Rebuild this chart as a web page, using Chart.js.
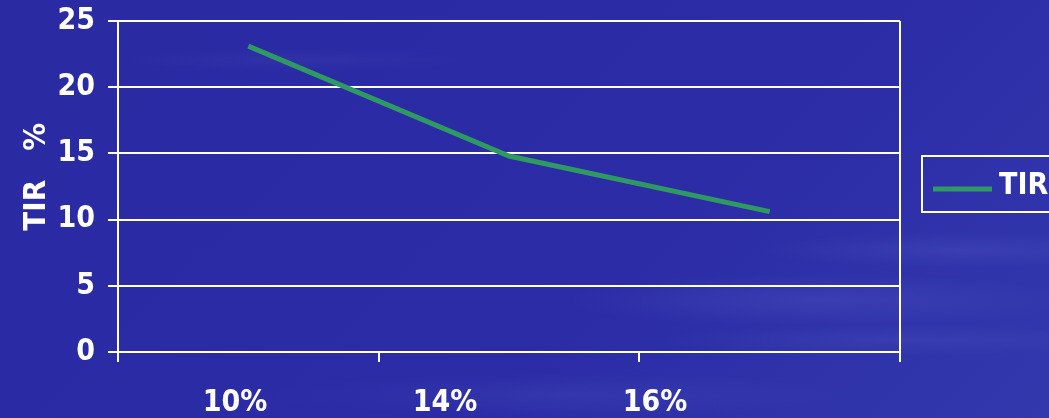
<!DOCTYPE html>
<html>
<head>
    <meta charset="UTF-8">
    <title>TIR</title>
    <script src="https://cdn.jsdelivr.net/npm/chart.js"></script>
    <style>
        html, body {
            margin: 0;
            padding: 0;
        }
        body {
            width: 1049px;
            height: 418px;
            overflow: hidden;
            background-color: #2b2ca6;
            background-image:
                radial-gradient(ellipse 260px 26px at 820px 300px, rgba(120, 130, 220, 0.16), transparent),
                radial-gradient(ellipse 200px 18px at 960px 250px, rgba(120, 130, 220, 0.14), transparent),
                radial-gradient(ellipse 240px 16px at 900px 340px, rgba(120, 130, 220, 0.12), transparent),
                radial-gradient(ellipse 300px 22px at 560px 395px, rgba(120, 130, 220, 0.10), transparent),
                radial-gradient(ellipse 180px 10px at 300px 60px, rgba(120, 130, 220, 0.08), transparent),
                linear-gradient(135deg, #2a2aa3 0%, #2b2ca6 60%, #3338ad 100%);
        }
        .chart-container {
            position: relative;
            width: 1049px;
            height: 418px;
        }
    </style>
</head>
<body>
<div class="chart-container">
    <canvas id="tirChart"></canvas>
</div>

<script>
    // Data
    const categories = ['10%', '14%', '16%'];
    const tirValues = [23.1, 14.8, 10.6];
    const yMin = 0;
    const yMax = 25;
    const yStep = 5;

    const WHITE = '#ffffff';
    const GREEN = '#2e9a62';
    const FONT = 'DejaVu Sans Condensed';

    // Boxed legend to the right of the plot
    const boxLegend = {
        id: 'boxLegend',
        afterDraw(chart) {
            const ctx = chart.ctx;
            const area = chart.chartArea;
            const ds = chart.data.datasets[0];
            const left = area.right + 22;
            const top = area.top + 135;
            const h = 56;
            ctx.save();
            ctx.strokeStyle = WHITE;
            ctx.lineWidth = 2;
            ctx.strokeRect(left, top, 160, h);
            ctx.strokeStyle = ds.borderColor;
            ctx.lineWidth = 5;
            ctx.beginPath();
            ctx.moveTo(left + 11, top + h / 2 + 5);
            ctx.lineTo(left + 70, top + h / 2 + 5);
            ctx.stroke();
            ctx.fillStyle = WHITE;
            ctx.font = 'bold 30px "' + FONT + '"';
            ctx.textBaseline = 'middle';
            ctx.fillText(ds.label, left + 77, top + h / 2 + 2);
            ctx.restore();
        }
    };

    const tirChart = new Chart(document.getElementById('tirChart'), {
        type: 'line',
        data: {
            labels: categories,
            datasets: [{
                label: 'TIR',
                data: tirValues,
                borderColor: GREEN,
                borderWidth: 5,
                pointRadius: 0,
                tension: 0,
                fill: false
            }]
        },
        options: {
            responsive: true,
            maintainAspectRatio: false,
            animation: false,
            layout: {
                padding: { top: 21, right: 149, bottom: 0, left: 0 }
            },
            plugins: {
                legend: { display: false },
                tooltip: { enabled: false }
            },
            scales: {
                x: {
                    type: 'category',
                    offset: true,
                    weight: 0,
                    grid: {
                        offset: true,
                        drawOnChartArea: true,
                        lineWidth: 2,
                        tickLength: 10,
                        color: (ctx) => (ctx.index === 1 || ctx.index === 2) ? 'transparent' : WHITE,
                        tickColor: WHITE
                    },
                    border: { color: WHITE, width: 2 },
                    ticks: { display: false },
                    afterFit: (scale) => { scale.height = 10; }
                },
                // category names sit on their own axis under the tick marks
                xLabels: {
                    type: 'linear',
                    position: 'bottom',
                    weight: 1,
                    min: -0.557,
                    max: 3.167,
                    grid: { display: false },
                    border: { display: false },
                    afterBuildTicks: (scale) => {
                        scale.ticks = categories.map((c, i) => ({ value: i }));
                    },
                    ticks: {
                        color: WHITE,
                        padding: 15,
                        maxRotation: 0,
                        autoSkip: false,
                        font: { family: FONT, size: 30, weight: 'bold' },
                        callback: (value) => categories[value]
                    },
                    afterFit: (scale) => { scale.height = 56; }
                },
                y: {
                    min: yMin,
                    max: yMax,
                    ticks: {
                        stepSize: yStep,
                        color: WHITE,
                        padding: 13,
                        font: { family: FONT, size: 30, weight: 'bold' }
                    },
                    grid: {
                        color: WHITE,
                        lineWidth: 2,
                        tickLength: 10
                    },
                    border: { color: WHITE, width: 2 },
                    title: {
                        display: true,
                        text: '  TIR   %',
                        color: WHITE,
                        padding: { top: 18, bottom: 0 },
                        font: { family: FONT, size: 31, weight: 'bold' }
                    },
                    afterFit: (scale) => {
                        scale.width = 118;
                        scale.paddingTop = 0;
                        scale.paddingBottom = 0;
                    }
                }
            }
        },
        plugins: [boxLegend]
    });
</script>
</body>
</html>
